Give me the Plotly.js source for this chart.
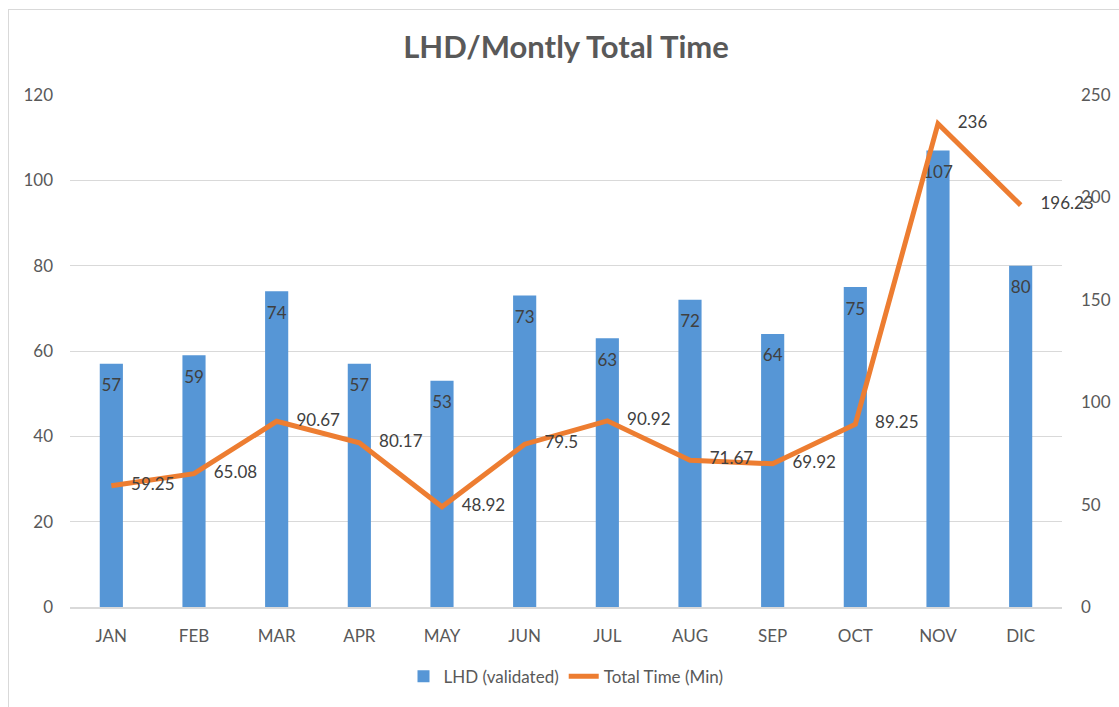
<!DOCTYPE html>
<html>
<head>
<meta charset="utf-8">
<script src="https://cdn.plot.ly/plotly-3.0.1.min.js"></script>
<style>
  html, body { margin:0; padding:0; width:1119px; height:707px; overflow:hidden; background:#fff; }
  #frame { position:absolute; left:8px; top:9px; width:1200px; height:800px; border:1px solid #d9d9d9; box-sizing:border-box; }
  #chart { position:absolute; left:0; top:0; width:1119px; height:707px; }
</style>
</head>
<body>
<div id="frame"></div>
<div id="chart"></div>
<script>
const months = ["JAN","FEB","MAR","APR","MAY","JUN","JUL","AUG","SEP","OCT","NOV","DIC"];
const lhdValidated = [57,59,74,57,53,73,63,72,64,75,107,80];
const totalTimeMin = [59.25,65.08,90.67,80.17,48.92,79.5,90.92,71.67,69.92,89.25,236,196.23];
const leftTicks = [0,20,40,60,80,100,120];
const rightTicks = [0,50,100,150,200,250];

const font = "Lato, 'Open Sans', sans-serif";

const bars = {
  type: "bar",
  name: "LHD (validated)",
  x: months,
  y: lhdValidated,
  width: 0.28,
  marker: { color: "#5696D6" },
  hoverinfo: "x+y"
};

const barLabels = {
  type: "scatter",
  mode: "markers+text",
  x: months,
  y: lhdValidated,
  showlegend: false,
  marker: { size: 22, opacity: 0 },
  text: lhdValidated.map(String),
  textposition: "bottom center",
  textfont: { family: font, size: 17, color: "#404040" },
  cliponaxis: false,
  hoverinfo: "skip"
};

const line = {
  type: "scatter",
  mode: "lines",
  name: "Total Time (Min)",
  x: months,
  y: totalTimeMin,
  yaxis: "y2",
  line: { color: "#ED7D31", width: 5 },
  cliponaxis: false
};

const lineLabels = {
  type: "scatter",
  mode: "markers+text",
  x: months,
  y: totalTimeMin,
  yaxis: "y2",
  showlegend: false,
  marker: { size: 30, opacity: 0 },
  text: totalTimeMin.map(String),
  textposition: "middle right",
  textfont: { family: font, size: 17, color: "#404040" },
  cliponaxis: false,
  hoverinfo: "skip"
};

const layout = {
  width: 1119,
  height: 707,
  margin: { l: 70, r: 57, t: 95, b: 97 },
  paper_bgcolor: "rgba(0,0,0,0)",
  plot_bgcolor: "rgba(0,0,0,0)",
  font: { family: font, color: "#595959", size: 17 },
  title: {
    text: "<b>LHD/Montly Total Time</b>",
    font: { family: font, size: 31, color: "#595959" },
    x: 0.5, xanchor: "center", xref: "paper",
    y: 1 - 47/707, yanchor: "middle", yref: "container"
  },
  xaxis: {
    type: "category",
    range: [-0.5, 11.5],
    autorange: false,
    showgrid: false,
    showline: true,
    linecolor: "#d9d9d9",
    linewidth: 1.5,
    ticks: "",
    ticklabelstandoff: 13,
    tickfont: { family: font, size: 17, color: "#595959" }
  },
  yaxis: {
    range: [0, 120],
    autorange: false,
    tickvals: leftTicks,
    showgrid: true,
    gridcolor: "#d9d9d9",
    gridwidth: 1,
    zeroline: false,
    showline: false,
    ticks: "",
    ticklabelstandoff: 16,
    tickfont: { family: font, size: 17, color: "#595959" }
  },
  yaxis2: {
    range: [0, 250],
    autorange: false,
    tickvals: rightTicks,
    overlaying: "y",
    side: "right",
    showgrid: false,
    zeroline: false,
    showline: false,
    ticks: "",
    ticklabelstandoff: 18,
    tickfont: { family: font, size: 17, color: "#595959" }
  },
  showlegend: true,
  legend: {
    orientation: "h",
    x: 0.5, xanchor: "center",
    y: -0.136, yanchor: "middle",
    font: { family: font, size: 17, color: "#595959" },
    traceorder: "normal"
  }
};

Plotly.newPlot("chart", [bars, line, barLabels, lineLabels], layout, { displayModeBar: false, staticPlot: true });
</script>
</body>
</html>
